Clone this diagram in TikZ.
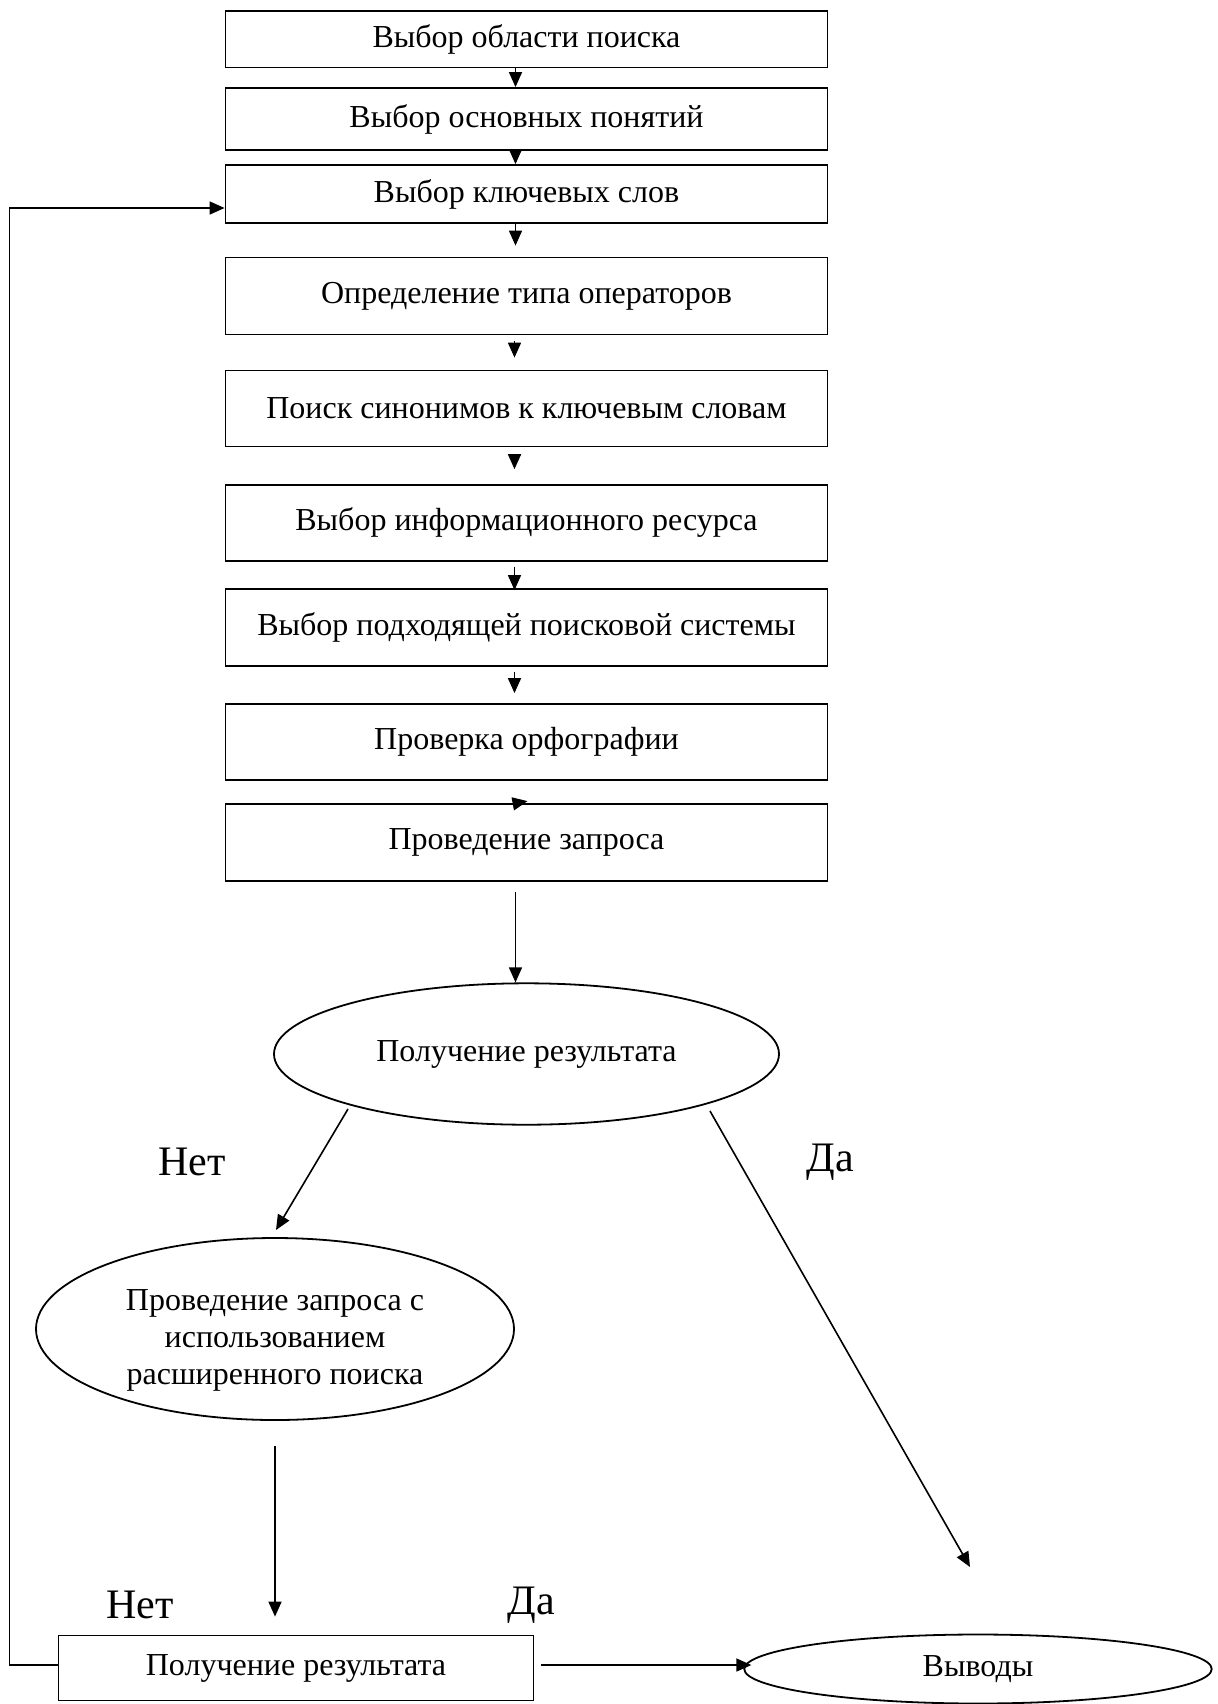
\documentclass[tikz,border=0pt]{standalone}
\usepackage{fontspec}
\setmainfont{Liberation Serif}
\usetikzlibrary{arrows.meta,shapes.geometric,calc}
\begin{document}
\begin{tikzpicture}[x=0.5pt,y=-0.5pt,
  box/.style={draw, line width=0.9pt, minimum width=301pt, inner sep=0pt, font=\fontsize{16}{18.5}\selectfont},
  oval/.style={draw, ellipse, line width=0.9pt, inner sep=0pt, align=center, font=\fontsize{16}{18.5}\selectfont},
  txt/.style={inner sep=0pt, align=center, font=\fontsize{16}{18.5}\selectfont},
  arr/.style={line width=0.8pt, -{Triangle[length=7.5pt,width=6.5pt]}},
  lbl/.style={font=\fontsize{21}{25}\selectfont, inner sep=0pt}]
\useasboundingbox (0,0) rectangle (1218,1704);
% boxes
\node[box, minimum height=28.25pt] (b1) at (526.5,39.2) {Выбор области поиска};
\node[box, minimum height=31pt] (b2) at (526.5,119) {Выбор основных понятий};
\node[box, minimum height=29pt] (b3) at (526.5,194) {Выбор ключевых слов};
\node[box, minimum height=38.5pt] (b4) at (526.5,296) {Определение типа операторов};
\node[box, minimum height=38pt] (b5) at (526.5,408.5) {Поиск синонимов к ключевым словам};
\node[box, minimum height=38pt] (b6) at (526.5,522.6) {Выбор информационного ресурса};
\node[box, minimum height=38.5pt] (b7) at (526.5,627.5) {Выбор подходящей поисковой системы};
\node[box, minimum height=38pt] (b8) at (526.5,742) {Проверка орфографии};
\node[box, minimum height=38.5pt] (b9) at (526.5,842.5) {Проведение запроса};
% ellipses
\node[oval, minimum width=252.5pt, minimum height=70.7pt] (e1) at (526.5,1054) {Получение результата};
\node[oval, minimum width=239pt, minimum height=91pt] (e2) at (275,1329) {};
\node[txt] (e2t) at (275,1340) {Проведение запроса с\\использованием\\расширенного поиска};
\node[box, minimum width=237.5pt, minimum height=32.5pt] (b10) at (296,1668) {Получение результата};
\node[oval, minimum width=233.75pt, minimum height=34.5pt] (e3) at (978,1669) {Выводы};
% labels
\node[lbl] (no1) at (192,1162) {Нет};
\node[lbl] (yes1) at (830,1162) {Да};
\node[lbl] (no2) at (140,1605) {Нет};
\node[lbl] (yes2) at (531,1605) {Да};
% arrows between boxes
\draw[arr] ($(b1.south)+(-11,0)$) -- ($(b2.north)+(-11,0)$);
\draw[arr] ($(b2.south)+(-11,0)$) -- ($(b3.north)+(-11,0)$);
\draw[arr] ($(b3.south)+(-11,0)$) -- ($(b4.north)+(-11,-11)$);
\draw[arr] ($(b4.south)+(-12,6)$) -- ($(b5.north)+(-12,-12)$);
\draw[arr] ($(b5.south)+(-12,7)$) -- ($(b6.north)+(-12,-14.5)$);
\draw[arr] ($(b6.south)+(-12,5)$) -- ($(b7.north)+(-12,2)$);
\draw[arr] ($(b7.south)+(-12,5)$) -- ($(b8.north)+(-12,-10)$);
\draw[arr] ($(b8.south)+(-14,23)$) -- ($(b9.north)+(1,-2)$);
\draw[arr] ($(b9.south)+(-11,10)$) -- ($(e1.north)+(-11,0)$);
% decision arrows
\coordinate (noend) at (276,1230);
\coordinate (yesend) at (970,1567);
\draw[arr] ($(e1.center)+(-178.5,55)$) -- (noend);
\draw[arr] ($(e1.center)+(183.5,57)$) -- (yesend);
\draw[arr] ($(e2.south)+(0,25)$) -- ($(e2.south |- b10.north)+(0,-18)$);
\draw[arr] ($(b10.east)+(7,-3)$) -- ($(e3.west)+(8,-4)$);
% feedback loop
\draw[arr] ($(b10.west)+(0,-3)$) -- ++(-48,0) |- ($(b3.west)+(0,14)$);
\end{tikzpicture}
\end{document}
